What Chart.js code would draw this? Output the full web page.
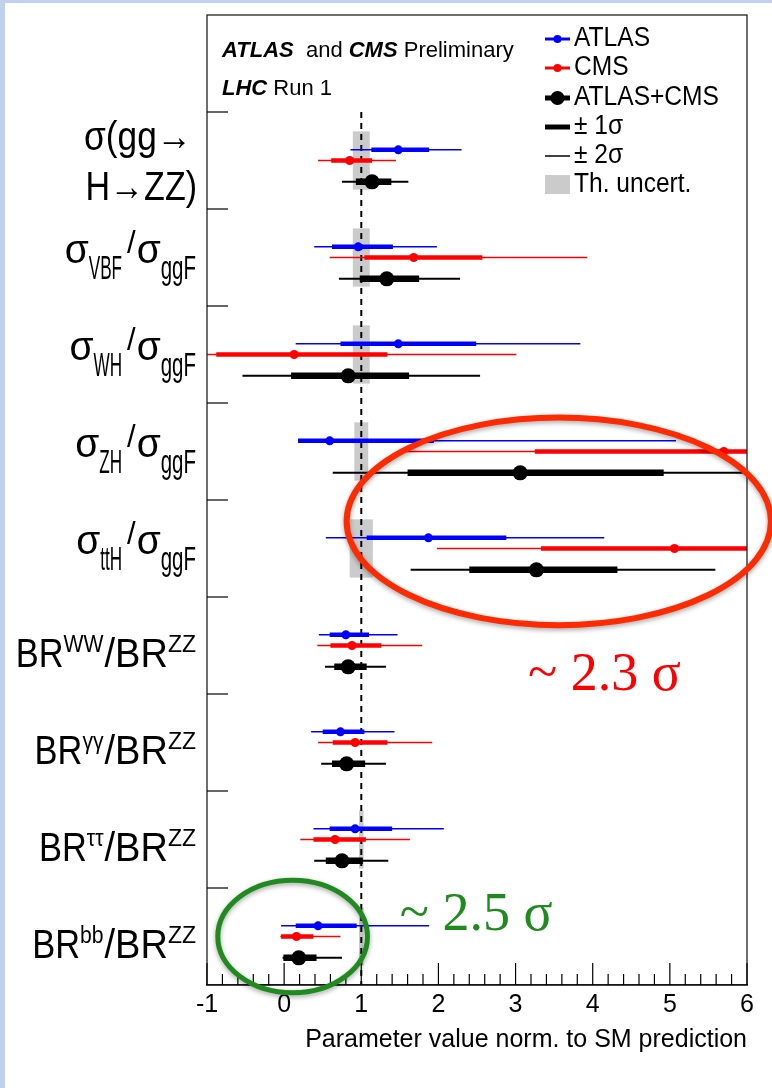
<!DOCTYPE html>
<html>
<head>
<meta charset="utf-8">
<script src="https://cdn.jsdelivr.net/npm/chart.js@4.4.0/dist/chart.umd.min.js"></script>
<style>
  html, body { margin: 0; padding: 0; background: #fff; }
  canvas { display: block; }
</style>
</head>
<body>
<canvas id="chart" width="772" height="1088"></canvas>
<script>
// categories, top to bottom
var categories = ['σ(gg→H→ZZ)', 'σVBF/σggF', 'σWH/σggF', 'σZH/σggF', 'σttH/σggF',
                  'BRWW/BRZZ', 'BRγγ/BRZZ', 'BRττ/BRZZ', 'BRbb/BRZZ'];

// ATLAS
var atlasVal = [1.48, 0.96, 1.48, 0.59, 1.87, 0.80, 0.73, 0.92, 0.44];
var atlasLo1 = [1.13, 0.62, 0.73, 0.18, 1.07, 0.59, 0.50, 0.59, 0.15];
var atlasHi1 = [1.88, 1.41, 2.49, 1.94, 2.88, 1.10, 1.04, 1.40, 0.94];
var atlasLo2 = [0.86, 0.39, 0.15, 0.18, 0.54, 0.45, 0.35, 0.38, -0.04];
var atlasHi2 = [2.30, 1.98, 3.84, 5.08, 4.15, 1.47, 1.43, 2.07, 1.88];

// CMS
var cmsVal = [0.85, 1.68, 0.13, 5.70, 5.06, 0.88, 0.92, 0.66, 0.16];
var cmsLo1 = [0.61, 1.04, -0.88, 3.25, 3.33, 0.60, 0.63, 0.38, -0.04];
var cmsHi1 = [1.14, 2.57, 1.34, 6.60, 6.60, 1.26, 1.34, 1.06, 0.38];
var cmsLo2 = [0.44, 0.59, -1.20, 1.54, 1.98, 0.43, 0.44, 0.21, -0.05];
var cmsHi2 = [1.45, 3.93, 3.01, 7.20, 7.20, 1.79, 1.92, 1.63, 0.73];

// ATLAS+CMS
var combVal = [1.14, 1.33, 0.83, 3.06, 3.27, 0.83, 0.81, 0.75, 0.19];
var combLo1 = [0.93, 0.98, 0.09, 1.60, 2.40, 0.65, 0.62, 0.54, -0.01];
var combHi1 = [1.39, 1.75, 1.62, 4.92, 4.32, 1.07, 1.05, 1.02, 0.42];
var combLo2 = [0.75, 0.71, -0.54, 0.63, 1.64, 0.53, 0.48, 0.39, -0.02];
var combHi2 = [1.61, 2.28, 2.54, 6.60, 5.59, 1.32, 1.32, 1.35, 0.75];

// theory uncertainty (half width around SM = 1)
var thUnc = [0.11, 0.11, 0.11, 0.09, 0.15, 0, 0, 0.03, 0.03];

var xTicks = [-1, 0, 1, 2, 3, 4, 5, 6];

var SANS = "'Liberation Sans', Arial, Helvetica, sans-serif";
var SERIF = "'Liberation Serif', 'Times New Roman', serif";

// vertical offset of each experiment inside its row
var offAtlas = -0.11, offCms = 0, offComb = 0.22;

function segs(lo, hi, dy) {
    var out = [];
    lo.forEach(function (l, i) {
        out.push({ x: l, y: i + dy }, { x: hi[i], y: i + dy }, { x: hi[i], y: null });
    });
    return out;
}
function pts(vals, dy) {
    return vals.map(function (v, i) { return { x: v, y: i + dy }; });
}

function lineSet(data, color, width, order) {
    return { data: data, showLine: true, spanGaps: false, borderColor: color, borderWidth: width,
             pointRadius: 0, borderCapStyle: 'butt', clip: 0, order: order };
}
function pointSet(data, color, r, order) {
    return { data: data, showLine: false, pointRadius: r, pointBackgroundColor: color,
             pointBorderWidth: 0, clip: 0, order: order };
}

// text made of pieces with their own size, baseline shift and horizontal squeeze
function measureRuns(ctx, runs) {
    var total = 0;
    runs.forEach(function (r) {
        ctx.font = (r.weight || '') + ' ' + r.size + 'px ' + (r.family || SANS);
        r.w = ctx.measureText(r.t).width * (r.sx || 1) + (r.gap || 0);
        total += r.w;
    });
    return total;
}
function drawRuns(ctx, runs, x, baseY) {
    runs.forEach(function (r) {
        ctx.font = (r.weight || '') + ' ' + r.size + 'px ' + (r.family || SANS);
        ctx.save();
        ctx.translate(x + (r.pre || 0), baseY + (r.dy || 0));
        ctx.scale(r.sx || 1, 1);
        ctx.fillText(r.t, 0, 0);
        ctx.restore();
        x += r.w;
    });
}

function rowRuns(i) {
    var subs = ['VBF', 'WH', 'ZH', 'ttH'];
    var sups = ['WW', 'γγ', 'ττ', 'bb'];
    if (i >= 1 && i <= 4) {
        return [
            { t: 'σ', size: 41, sx: 0.95, dy: 5 },
            { t: subs[i - 1], size: 33, sx: 0.52, dy: 21 },
            { t: '/', size: 31, sx: 1, dy: -5, pre: 5, gap: 6 },
            { t: 'σ', size: 41, sx: 0.95, dy: 5 },
            { t: 'ggF', size: 33, sx: 0.62, dy: 21 }
        ];
    }
    return [
        { t: 'BR', size: 40, sx: 0.86, dy: 21 },
        { t: sups[i - 5], size: 23, sx: 0.92, dy: 6, gap: 1 },
        { t: '/BR', size: 40, sx: 0.95, dy: 21 },
        { t: 'ZZ', size: 23, sx: 1.0, dy: 6 }
    ];
}

var decor = {
    id: 'decor',
    beforeDraw: function (chart) {
        var ctx = chart.ctx;
        ctx.save();
        ctx.fillStyle = '#fff';
        ctx.fillRect(0, 0, chart.width, chart.height);
        ctx.fillStyle = '#bfd1ee';
        ctx.fillRect(0, 0, chart.width, 3);
        ctx.fillRect(0, 0, 5, chart.height);
        ctx.restore();
    },
    beforeDatasetsDraw: function (chart) {
        var ctx = chart.ctx, xs = chart.scales.x, ys = chart.scales.y;
        ctx.save();
        ctx.fillStyle = '#cbcbcb';
        thUnc.forEach(function (h, i) {
            if (!h) return;
            var x0 = xs.getPixelForValue(1 - h), x1 = xs.getPixelForValue(1 + h);
            var y0 = ys.getPixelForValue(i - 0.3), y1 = ys.getPixelForValue(i + 0.3);
            ctx.fillRect(x0, y0, x1 - x0, y1 - y0);
        });
        ctx.restore();
    },
    afterDraw: function (chart) {
        var ctx = chart.ctx, a = chart.chartArea, xs = chart.scales.x, ys = chart.scales.y;
        ctx.save();

        // frame
        ctx.strokeStyle = '#222';
        ctx.lineWidth = 1.3;
        ctx.strokeRect(a.left, a.top, a.right - a.left, a.bottom - a.top);

        // inward ticks on x axis
        ctx.strokeStyle = '#000';
        ctx.lineWidth = 1.2;
        xTicks.forEach(function (v, k) {
            var px = xs.getPixelForValue(v);
            ctx.beginPath(); ctx.moveTo(px, a.bottom); ctx.lineTo(px, a.bottom - 22); ctx.stroke();
            if (k < xTicks.length - 1) {
                for (var m = 1; m < 5; m++) {
                    var mx = xs.getPixelForValue(v + m * (xTicks[k + 1] - v) / 5);
                    ctx.beginPath(); ctx.moveTo(mx, a.bottom); ctx.lineTo(mx, a.bottom - 11); ctx.stroke();
                }
            }
        });
        // row ticks on left axis
        for (var r = 0; r < categories.length; r++) {
            var py = ys.getPixelForValue(r - 0.5);
            ctx.beginPath(); ctx.moveTo(a.left, py); ctx.lineTo(a.left + 21, py); ctx.stroke();
        }

        // row labels
        ctx.fillStyle = '#000';
        ctx.textAlign = 'left';
        ctx.textBaseline = 'alphabetic';
        var xRight = 196;
        categories.forEach(function (name, i) {
            var c = ys.getPixelForValue(i);
            if (i === 0) {
                var l1 = [{ t: 'σ(gg→', size: 41, sx: 0.86 }];
                var l2 = [{ t: 'H→ZZ)', size: 41, sx: 0.83 }];
                drawRuns(ctx, l1, xRight - 4 - measureRuns(ctx, l1), c - 11);
                drawRuns(ctx, l2, xRight + 1 - measureRuns(ctx, l2), c + 39);
                return;
            }
            var runs = rowRuns(i);
            drawRuns(ctx, runs, xRight - measureRuns(ctx, runs), c);
        });

        // header
        var hx = a.left + 15;
        var h1 = [
            { t: 'ATLAS', size: 22, weight: 'italic bold' },
            { t: '  and ', size: 22 },
            { t: 'CMS', size: 22, weight: 'italic bold' },
            { t: ' Preliminary', size: 22 }
        ];
        measureRuns(ctx, h1);
        drawRuns(ctx, h1, hx, 57);
        var h2 = [
            { t: 'LHC', size: 22, weight: 'italic bold' },
            { t: ' Run 1', size: 22 }
        ];
        measureRuns(ctx, h2);
        drawRuns(ctx, h2, hx, 95);

        // legend
        var lx0 = 545, lx1 = 570, tx = 574;
        var leg = [
            { label: 'ATLAS', y: 39, base: 46, color: '#0000ff', lw: 3, dot: 4 },
            { label: 'CMS', y: 68, base: 75, color: '#ff0000', lw: 3, dot: 4 },
            { label: 'ATLAS+CMS', y: 98, base: 105, color: '#000', lw: 5, dot: 7 },
            { label: '± 1σ', y: 127, base: 134, color: '#000', lw: 5, dot: 0 },
            { label: '± 2σ', y: 156, base: 163, color: '#000', lw: 1.5, dot: 0 },
            { label: 'Th. uncert.', y: 184, base: 192, color: '#cbcbcb', lw: 0, dot: 0 }
        ];
        leg.forEach(function (e) {
            if (e.lw) {
                ctx.strokeStyle = e.color; ctx.lineWidth = e.lw;
                ctx.beginPath(); ctx.moveTo(lx0, e.y); ctx.lineTo(lx1, e.y); ctx.stroke();
            } else {
                ctx.fillStyle = e.color;
                ctx.fillRect(lx0, e.y - 9, lx1 - lx0, 19);
            }
            if (e.dot) {
                ctx.fillStyle = e.color;
                ctx.beginPath(); ctx.arc((lx0 + lx1) / 2, e.y, e.dot, 0, Math.PI * 2); ctx.fill();
            }
            ctx.fillStyle = '#000';
            var run = [{ t: e.label, size: 27, sx: 0.91 }];
            measureRuns(ctx, run);
            drawRuns(ctx, run, tx, e.base);
        });

        // highlight ellipses
        ctx.shadowColor = 'rgba(0,0,0,0.35)';
        ctx.shadowBlur = 5;
        ctx.shadowOffsetY = 2;
        ctx.lineWidth = 6;
        ctx.strokeStyle = '#ff2a00';
        ctx.beginPath();
        ctx.ellipse(xs.getPixelForValue(3.56), ys.getPixelForValue(3.72),
                    xs.getPixelForValue(3.56) - xs.getPixelForValue(0.81),
                    ys.getPixelForValue(4.79) - ys.getPixelForValue(3.72), 0, 0, Math.PI * 2);
        ctx.stroke();
        ctx.lineWidth = 5;
        ctx.strokeStyle = '#1f8b1f';
        ctx.beginPath();
        ctx.ellipse(xs.getPixelForValue(0.11), ys.getPixelForValue(8.0),
                    xs.getPixelForValue(0.11) - xs.getPixelForValue(-0.86),
                    ys.getPixelForValue(8.58) - ys.getPixelForValue(8.0), 0, 0, Math.PI * 2);
        ctx.stroke();
        ctx.shadowColor = 'transparent';

        ctx.fillStyle = '#ff0000';
        var s1 = [{ t: '~ 2.3 σ', size: 54, family: SERIF }];
        measureRuns(ctx, s1);
        drawRuns(ctx, s1, xs.getPixelForValue(3.16), ys.getPixelForValue(5.46));
        ctx.fillStyle = '#1f8b1f';
        var s2 = [{ t: '~ 2.5 σ', size: 54, family: SERIF }];
        measureRuns(ctx, s2);
        drawRuns(ctx, s2, xs.getPixelForValue(1.50), ys.getPixelForValue(7.93));

        ctx.restore();
    }
};

var datasets = [
    // SM reference line
    { data: [{ x: 1, y: -0.5 }, { x: 1, y: categories.length - 0.5 }], showLine: true,
      borderColor: '#000', borderWidth: 2, borderDash: [6, 5], pointRadius: 0, order: 20 },
    lineSet(segs(atlasLo2, atlasHi2, offAtlas), '#0000ff', 1.5, 9),
    lineSet(segs(atlasLo1, atlasHi1, offAtlas), '#0000ff', 4.5, 8),
    pointSet(pts(atlasVal, offAtlas), '#0000ff', 4.5, 7),
    lineSet(segs(cmsLo2, cmsHi2, offCms), '#ff0000', 1.5, 6),
    lineSet(segs(cmsLo1, cmsHi1, offCms), '#ff0000', 4.5, 5),
    pointSet(pts(cmsVal, offCms), '#ff0000', 4.5, 4),
    lineSet(segs(combLo2, combHi2, offComb), '#000', 2, 3),
    lineSet(segs(combLo1, combHi1, offComb), '#000', 6.5, 2),
    pointSet(pts(combVal, offComb), '#000', 7.5, 1)
];

new Chart(document.getElementById('chart'), {
    type: 'scatter',
    data: { datasets: datasets },
    options: {
        responsive: false,
        animation: false,
        devicePixelRatio: 1,
        layout: { padding: { left: 207, top: 15, right: 25, bottom: 0 } },
        plugins: { legend: { display: false }, tooltip: { enabled: false } },
        scales: {
            x: {
                type: 'linear', min: -1, max: 6, position: 'bottom',
                afterFit: function (s) { s.height = 103; },
                grid: { display: false, drawTicks: false, tickLength: 0 },
                border: { display: true, color: '#000', width: 1.5 },
                ticks: { stepSize: 1, padding: 5, color: '#000', font: { family: SANS, size: 25 } },
                title: { display: true, text: 'Parameter value norm. to SM prediction', align: 'end',
                         color: '#000', font: { family: SANS, size: 25 }, padding: { top: 0, bottom: 33 } }
            },
            y: { type: 'linear', min: -1.5, max: categories.length - 0.5, reverse: true, display: false }
        }
    },
    plugins: [decor]
});
</script>
</body>
</html>
